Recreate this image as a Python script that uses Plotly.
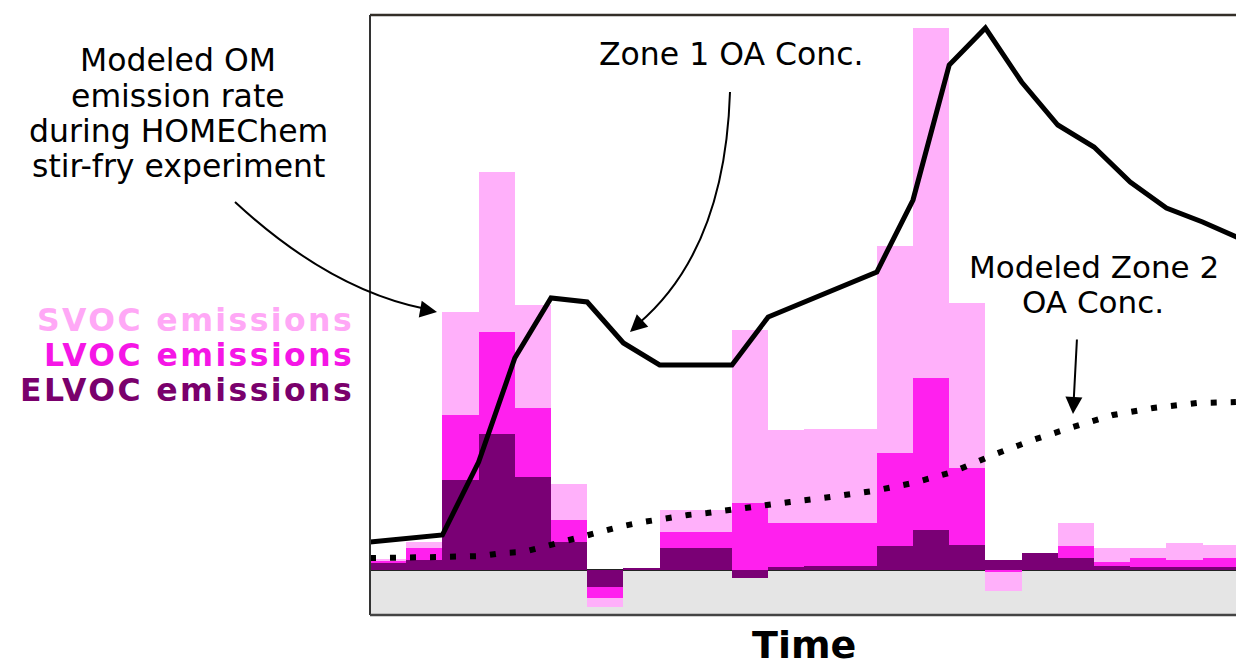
import plotly.graph_objects as go

# ---------------- data (arbitrary units) ----------------
bin_index = list(range(24))
elvoc = [7, 10, 90, 136, 93, 28, -17, 2, 22, 22, -8, 3, 4, 4, 24, 40, 25, 10, 17, 12, 4, 3, 3, 3]
lvoc = [2, 12, 65, 102, 69, 22, -11, 0, 16, 16, 67, 44, 43, 43, 93, 152, 77, -2, 0, 12, 4, 9, 7, 9]
svoc = [2, 6, 103, 160, 103, 36, -9, 0, 22, 22, 173, 93, 94, 94, 207, 350, 165, -19, 0, 23, 14, 10, 17, 13]

zone1_x = list(range(25))
zone1_y = [28, 32, 35, 108, 212, 272, 268, 227, 205, 205, 205, 253, 268, 283, 298,
           370, 505, 542, 488, 445, 423, 388, 362, 348, 332]

zone2_x = [0, 1.33, 1.93, 3.09, 3.65, 4.23, 4.75, 5.30, 5.86, 6.44, 6.99, 7.54, 8.20,
           8.78, 9.31, 9.86, 10.44, 11.05, 11.60, 12.71, 13.90, 15.0, 16.1, 17.21,
           18.31, 19.42, 20.52, 21.63, 22.85, 23.92]
zone2_y = [12, 12, 13, 14, 17, 18, 23, 28, 33, 40, 44, 48, 52, 55, 57, 60, 63, 65,
           68, 73, 79, 87, 98, 115, 130, 143, 155, 162, 167, 168]

legend_labels = ["SVOC emissions", "LVOC emissions", "ELVOC emissions"]

# ---------------- styling ----------------
C_SVOC, C_LVOC, C_ELVOC = "#ffb0fa", "#ff20ee", "#7a0075"
T_SVOC, T_LVOC, T_ELVOC = "#ffa8f6", "#f516e6", "#7a006c"
FONT = "DejaVu Sans"

W, H = 1236, 669
L, R, T, B = 370, 0, 15, 54
PW, PH = W - L - R, H - T - B


def px(x):  # page pixel -> paper
    return (x - L) / PW


def py(y):
    return (H - B - y) / PH


centers = [i + 0.5 for i in bin_index]

fig = go.Figure()
for vals, col, name in [(elvoc, C_ELVOC, "ELVOC"), (lvoc, C_LVOC, "LVOC"), (svoc, C_SVOC, "SVOC")]:
    fig.add_trace(go.Bar(x=centers, y=vals, width=1.0, marker=dict(color=col, line=dict(width=0)),
                         name=name, showlegend=False, hoverinfo="skip"))

fig.add_trace(go.Scatter(x=zone2_x, y=zone2_y, mode="lines",
                         line=dict(color="black", width=6, dash="6px,14px"),
                         showlegend=False, hoverinfo="skip"))
fig.add_trace(go.Scatter(x=zone1_x, y=zone1_y, mode="lines",
                         line=dict(color="black", width=5),
                         showlegend=False, hoverinfo="skip"))

shapes = [
    dict(type="rect", xref="paper", yref="y", x0=0, x1=1, y0=-45, y1=0,
         fillcolor="#e5e5e5", line=dict(width=0), layer="below"),
    dict(type="line", xref="paper", yref="y", x0=0, x1=1, y0=0, y1=0,
         line=dict(color="#222222", width=2), layer="below"),
    dict(type="line", xref="paper", yref="paper", x0=0, x1=1, y0=1, y1=1,
         line=dict(color="#332e28", width=2.5)),
    dict(type="line", xref="paper", yref="paper", x0=0, x1=0, y0=0, y1=1,
         line=dict(color="#333333", width=2)),
    dict(type="line", xref="paper", yref="paper", x0=0, x1=1, y0=0, y1=0,
         line=dict(color="#444444", width=2.5)),
    dict(type="path", xref="paper", yref="paper",
         path=f"M {px(235)},{py(202)} Q {px(330)},{py(290)} {px(426)},{py(309)}",
         line=dict(color="black", width=2)),
    dict(type="path", xref="paper", yref="paper",
         path=f"M {px(730)},{py(92)} Q {px(725)},{py(250)} {px(638)},{py(324)}",
         line=dict(color="black", width=2)),
]

ann = []


def text(x, y, s, size, color="black", bold=False, xanchor="center", yanchor="middle"):
    ann.append(dict(x=px(x), y=py(y), xref="paper", yref="paper", text=s, showarrow=False,
                    xanchor=xanchor, yanchor=yanchor,
                    font=dict(family=FONT, size=size, color=color,
                              weight="bold" if bold else "normal")))


for s, y in zip(["Modeled OM", "emission rate", "during HOMEChem", "stir-fry experiment"],
                [60, 96, 131, 166]):
    text(178, y, s, 31.5)
text(731, 54, "Zone 1 OA Conc.", 31.5)
text(1094, 267, "Modeled Zone 2", 31)
text(1093, 302, "OA Conc.", 31)
for s, y, c in zip(legend_labels, [320, 355, 390], [T_SVOC, T_LVOC, T_ELVOC]):
    text(356, y, f"<span style='letter-spacing:2.4px'>{s}</span>", 31.5,
         color=c, bold=True, xanchor="right")
text(804, 669, "Time", 38, bold=True, yanchor="bottom")


def arrow(tipx, tipy, ax, ay):
    ann.append(dict(x=px(tipx), y=py(tipy), xref="paper", yref="paper", text="",
                    showarrow=True, arrowhead=2, arrowsize=1.7, arrowwidth=2,
                    arrowcolor="black", ax=ax, ay=ay))


arrow(437, 312, -17, -3)
arrow(630, 332, 12, -11)
arrow(1073, 414, 4, -76)

fig.update_layout(
    width=W, height=H,
    margin=dict(l=L, r=R, t=T, b=B),
    paper_bgcolor="white", plot_bgcolor="white",
    barmode="relative", bargap=0,
    xaxis=dict(range=[0, PW / 36.2], visible=False, fixedrange=True),
    yaxis=dict(range=[-45, 555], visible=False, fixedrange=True),
    shapes=shapes, annotations=ann,
    showlegend=False,
)

fig.write_html("out.html", config={"displayModeBar": False},
               post_script="document.body.style.margin='0';document.body.style.overflow='hidden';")
